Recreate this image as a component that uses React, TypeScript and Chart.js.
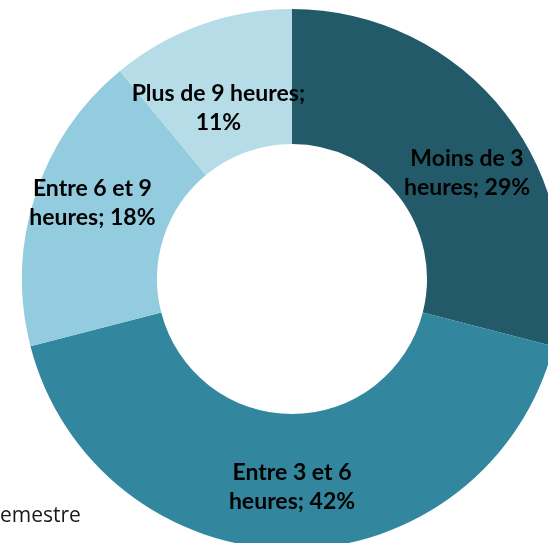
import React, { useEffect, useRef } from "react";
import { Chart, registerables } from "chart.js";

Chart.register(...registerables);

const categories = ["Moins de 3 heures", "Entre 3 et 6 heures", "Entre 6 et 9 heures", "Plus de 9 heures"];
const values = [29, 42, 18, 11];
const colors = ["#235A6A", "#32869E", "#93CCDE", "#B6DCE7"];
// number of words on the first line of each data label
const firstLineWords = [3, 4, 4, 4];
// label offsets (px) from the slice's mid-ring point
const labelOffsets: [number, number][] = [[15, 18], [0, 6], [-7, -13], [-5, 20]];

const labelPlugin = {
  id: "sliceLabels",
  afterDatasetsDraw(chart: any) {
    const meta = chart.getDatasetMeta(0);
    const ctx = chart.ctx;
    ctx.save();
    ctx.font = "bold 23px Lato";
    ctx.fillStyle = "#000";
    ctx.textAlign = "center";
    ctx.textBaseline = "middle";
    meta.data.forEach((arc: any, i: number) => {
      const p = arc.getProps(["x", "y", "startAngle", "endAngle", "innerRadius", "outerRadius"], true);
      const a = (p.startAngle + p.endAngle) / 2;
      const r = (p.innerRadius + p.outerRadius) / 2;
      const cx = p.x + Math.cos(a) * r + labelOffsets[i][0];
      const cy = p.y + Math.sin(a) * r + labelOffsets[i][1];
      const words = `${categories[i]}; ${values[i]}%`.split(" ");
      const lines = [words.slice(0, firstLineWords[i]).join(" "), words.slice(firstLineWords[i]).join(" ")];
      const lh = 29;
      lines.forEach((ln, k) => {
        ctx.fillText(ln, cx, cy + (k - (lines.length - 1) / 2) * lh);
      });
    });
    ctx.restore();
  },
};

export default function App() {
  const ref = useRef<HTMLCanvasElement>(null);
  useEffect(() => {
    if (!ref.current) return;
    const chart = new Chart(ref.current, {
      type: "doughnut",
      data: {
        labels: categories,
        datasets: [{ data: values, backgroundColor: colors, borderWidth: 0 }],
      },
      options: {
        responsive: false,
        animation: false,
        cutout: "50%",
        layout: { padding: 0 },
        plugins: { legend: { display: false }, tooltip: { enabled: false } },
      },
      plugins: [labelPlugin],
    });
    return () => chart.destroy();
  }, []);
  return (
    <div style={{ position: "fixed", left: 0, top: 0, width: 548, height: 543, overflow: "hidden", background: "#fff" }}>
      <div style={{ position: "absolute", left: 22, top: 9, width: 540, height: 540 }}>
        <canvas ref={ref} width={540} height={540} />
      </div>
      <div style={{ position: "absolute", left: 0, top: 499, fontFamily: "'Open Sans'", fontSize: 21, color: "#1a1a1a", lineHeight: "30px" }}>
        emestre
      </div>
    </div>
  );
}
